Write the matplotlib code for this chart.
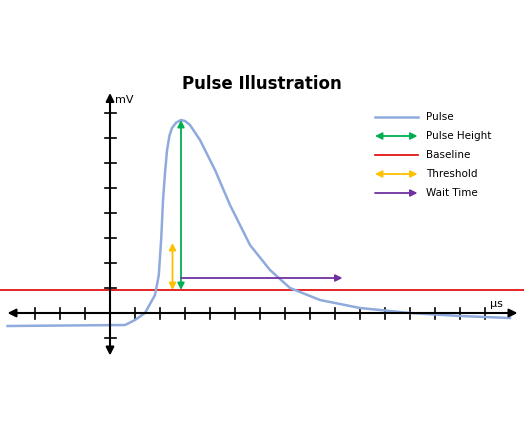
import matplotlib.pyplot as plt
import numpy as np

# pulse shape (time in us, voltage in mV)
pulse_t = [-4.1, 0.6, 1.0, 1.4, 1.8, 1.95, 2.05, 2.12, 2.2, 2.28, 2.38, 2.48, 2.65, 2.84, 3.0, 3.2,
           3.6, 4.2, 4.8, 5.6, 6.4, 7.2, 8.4, 10.0, 12.0, 14.0, 16.0]
pulse_v = [-0.52, -0.48, -0.28, 0.0, 0.72, 1.5, 3.0, 4.5, 5.6, 6.5, 7.1, 7.4, 7.62, 7.72, 7.68, 7.52,
           6.92, 5.72, 4.32, 2.72, 1.72, 1.0, 0.52, 0.2, 0.0, -0.12, -0.2]
baseline = 0.92
peak_t, peak_v = 2.84, 7.72
threshold_t, threshold_top = 2.5, 2.8
wait_v, wait_end = 1.4, 9.3

legend_labels = ["Pulse", "Pulse Height", "Baseline", "Threshold", "Wait Time"]
c_pulse, c_green, c_red, c_yellow, c_purple = "#8faadc", "#00b050", "#e00000", "#ffc000", "#7030a0"

fig = plt.figure(figsize=(5.24, 4.44), dpi=100)
ax = fig.add_axes([0, 0, 1, 1])
ax.set_xlim(-4.4, 16.56)
ax.set_ylim(-5.24, 12.52)
ax.axis("off")

def arrow(x0, y0, x1, y1, color, style="-|>", lw=1.3, ms=10):
    ax.annotate("", xy=(x1, y1), xytext=(x0, y0),
                arrowprops=dict(arrowstyle=style, color=color, lw=lw, mutation_scale=ms,
                                shrinkA=0, shrinkB=0))

# axes
arrow(-4.1, 0, 16.3, 0, "black", "<|-|>", 1.5, 12)
arrow(0, -1.7, 0, 8.8, "black", "<|-|>", 1.5, 12)
for t in range(-3, 16):
    if t != 0:
        ax.plot([t, t], [-0.22, 0.22], color="black", lw=1.2)
for v in list(range(1, 9)) + [-1]:
    ax.plot([-0.22, 0.22], [v, v], color="black", lw=1.2)
ax.text(0.2, 8.5, "mV", fontsize=8, va="center")
ax.text(15.2, 0.35, "μs", fontsize=8, va="center")

ax.axhline(baseline, color=c_red, lw=1.2)
ax.plot(pulse_t, pulse_v, color=c_pulse, lw=1.8)
arrow(peak_t, baseline, peak_t, peak_v, c_green, "<|-|>")
arrow(threshold_t, baseline, threshold_t, threshold_top, c_yellow, "<|-|>")
arrow(peak_t, wait_v, wait_end, wait_v, c_purple, "-|>")

ax.text(6.08, 9.15, "Pulse Illustration", fontsize=12, fontweight="bold", ha="center", va="center")

# legend
ly = [7.84, 7.08, 6.32, 5.56, 4.8]
ax.plot([10.6, 12.3], [ly[0], ly[0]], color=c_pulse, lw=1.8)
arrow(10.6, ly[1], 12.3, ly[1], c_green, "<|-|>")
ax.plot([10.6, 12.3], [ly[2], ly[2]], color=c_red, lw=1.2)
arrow(10.6, ly[3], 12.3, ly[3], c_yellow, "<|-|>")
arrow(10.6, ly[4], 12.3, ly[4], c_purple, "-|>")
for y, lab in zip(ly, legend_labels):
    ax.text(12.64, y, lab, fontsize=7.5, va="center")

fig.savefig("out.png", dpi=100)
